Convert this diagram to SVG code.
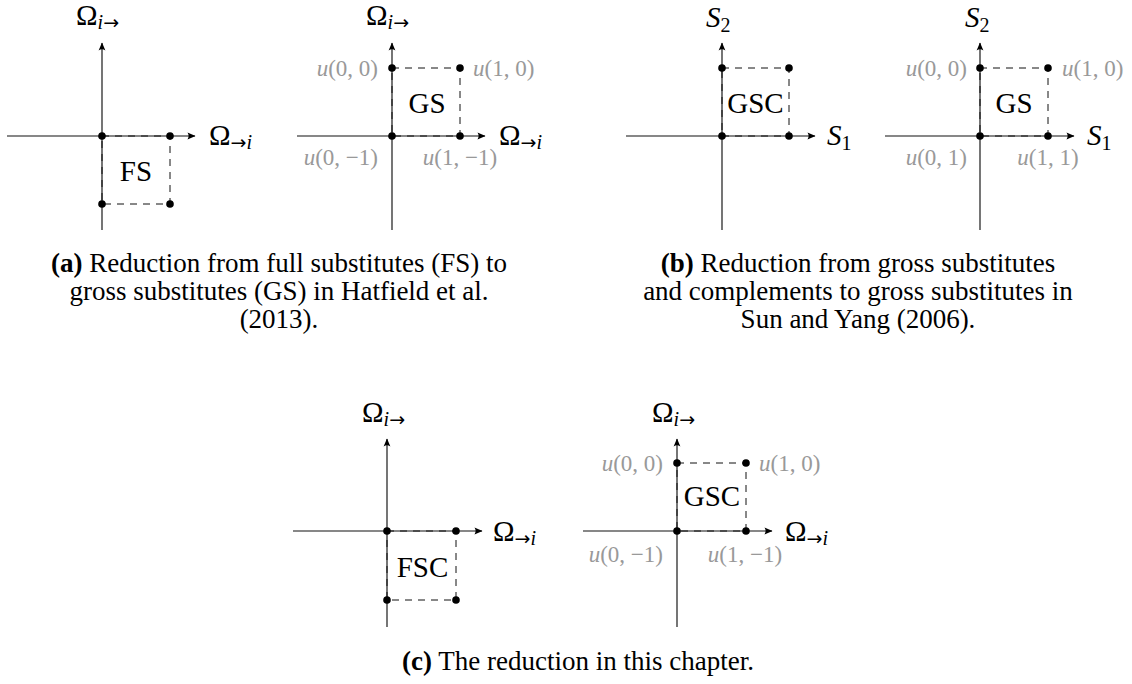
<svg xmlns="http://www.w3.org/2000/svg" width="1132" height="684" viewBox="0 0 1132 684">
<style>
  .axis{stroke:#111;stroke-width:1.15;fill:none}
  .dash{stroke:#111;stroke-width:1;fill:none;stroke-dasharray:7 6}
  .dot{fill:#000}
  text{font-family:"Liberation Serif","Times New Roman",serif;fill:#000}
  .big{font-size:29px}
  .sub{font-size:20px}
  .arr{font-family:"DejaVu Sans",sans-serif;font-size:19px}
  .it{font-style:italic}
  .u{font-size:23px;fill:#999}
  .cap{font-size:27px;text-anchor:middle}
  .mid{font-size:29px;text-anchor:middle}
  .b{font-weight:bold}
</style>
<defs>
  <marker id="ah" viewBox="-9 -5 10 10" refX="0" refY="0" markerWidth="10" markerHeight="10" markerUnits="userSpaceOnUse" orient="auto">
    <path d="M0.5,0 L-7.5,-3.4 Q-5.2,0 -7.5,3.4 Z" fill="#000"/>
  </marker>
</defs>

<!-- Panel 1 (a left) origin 102,136 -->
<g id="panel-a1">
  <g class="connectors">
    <line class="axis" x1="7" y1="136" x2="195" y2="136" marker-end="url(#ah)"/>
    <line class="axis" x1="102" y1="230" x2="102" y2="43" marker-end="url(#ah)"/>
    <path class="dash" d="M102,136 H170 V204 H102 Z"/>
  </g>
  <circle class="dot" cx="102" cy="136" r="3.8"/>
  <circle class="dot" cx="170" cy="136" r="3.8"/>
  <circle class="dot" cx="102" cy="204" r="3.8"/>
  <circle class="dot" cx="170" cy="204" r="3.8"/>
  <text class="big" x="76" y="25">Ω<tspan class="sub" dy="4"><tspan class="it">i</tspan><tspan class="arr">→</tspan></tspan></text>
  <text class="big" x="209" y="145">Ω<tspan class="sub" dy="4"><tspan class="arr">→</tspan><tspan class="it">i</tspan></tspan></text>
  <text class="mid" x="136" y="181">FS</text>
</g>

<!-- Panel 2 (a right) origin 392,136 -->
<g id="panel-a2">
  <g class="connectors">
    <line class="axis" x1="297" y1="136" x2="485" y2="136" marker-end="url(#ah)"/>
    <line class="axis" x1="392" y1="230" x2="392" y2="43" marker-end="url(#ah)"/>
    <path class="dash" d="M392,68 H460 V136 H392 Z"/>
  </g>
  <circle class="dot" cx="392" cy="136" r="3.8"/>
  <circle class="dot" cx="460" cy="136" r="3.8"/>
  <circle class="dot" cx="392" cy="68" r="3.8"/>
  <circle class="dot" cx="460" cy="68" r="3.8"/>
  <text class="big" x="366" y="25">Ω<tspan class="sub" dy="4"><tspan class="it">i</tspan><tspan class="arr">→</tspan></tspan></text>
  <text class="big" x="499" y="145">Ω<tspan class="sub" dy="4"><tspan class="arr">→</tspan><tspan class="it">i</tspan></tspan></text>
  <text class="mid" x="427" y="113">GS</text>
  <text class="u" x="378" y="76" text-anchor="end"><tspan class="it">u</tspan>(0, 0)</text>
  <text class="u" x="473" y="76"><tspan class="it">u</tspan>(1, 0)</text>
  <text class="u" x="378" y="165" text-anchor="end"><tspan class="it">u</tspan>(0, −1)</text>
  <text class="u" x="460" y="165" text-anchor="middle"><tspan class="it">u</tspan>(1, −1)</text>
</g>

<!-- Panel 3 (b left) origin 722,136 -->
<g id="panel-b1">
  <g class="connectors">
    <line class="axis" x1="626" y1="136" x2="815" y2="136" marker-end="url(#ah)"/>
    <line class="axis" x1="722" y1="230" x2="722" y2="43" marker-end="url(#ah)"/>
    <path class="dash" d="M722,68 H789 V136 H722 Z"/>
  </g>
  <circle class="dot" cx="722" cy="136" r="3.8"/>
  <circle class="dot" cx="789" cy="136" r="3.8"/>
  <circle class="dot" cx="722" cy="68" r="3.8"/>
  <circle class="dot" cx="789" cy="68" r="3.8"/>
  <text class="big" x="706" y="27"><tspan class="it">S</tspan><tspan class="sub" dy="5">2</tspan></text>
  <text class="big" x="827" y="145"><tspan class="it">S</tspan><tspan class="sub" dy="5">1</tspan></text>
  <text class="mid" x="755.5" y="113">GSC</text>
</g>

<!-- Panel 4 (b right) origin 980,136 -->
<g id="panel-b2">
  <g class="connectors">
    <line class="axis" x1="885" y1="136" x2="1074" y2="136" marker-end="url(#ah)"/>
    <line class="axis" x1="980" y1="230" x2="980" y2="43" marker-end="url(#ah)"/>
    <path class="dash" d="M980,68 H1048 V136 H980 Z"/>
  </g>
  <circle class="dot" cx="980" cy="136" r="3.8"/>
  <circle class="dot" cx="1048" cy="136" r="3.8"/>
  <circle class="dot" cx="980" cy="68" r="3.8"/>
  <circle class="dot" cx="1048" cy="68" r="3.8"/>
  <text class="big" x="965" y="27"><tspan class="it">S</tspan><tspan class="sub" dy="5">2</tspan></text>
  <text class="big" x="1087" y="145"><tspan class="it">S</tspan><tspan class="sub" dy="5">1</tspan></text>
  <text class="mid" x="1014" y="113">GS</text>
  <text class="u" x="967" y="76" text-anchor="end"><tspan class="it">u</tspan>(0, 0)</text>
  <text class="u" x="1062" y="76"><tspan class="it">u</tspan>(1, 0)</text>
  <text class="u" x="967" y="165" text-anchor="end"><tspan class="it">u</tspan>(0, 1)</text>
  <text class="u" x="1048" y="165" text-anchor="middle"><tspan class="it">u</tspan>(1, 1)</text>
</g>

<!-- Panel 5 (c left) origin 387,531 -->
<g id="panel-c1">
  <g class="connectors">
    <line class="axis" x1="293" y1="531" x2="482" y2="531" marker-end="url(#ah)"/>
    <line class="axis" x1="387" y1="627" x2="387" y2="439" marker-end="url(#ah)"/>
    <path class="dash" d="M387,531 H456 V600 H387 Z"/>
  </g>
  <circle class="dot" cx="387" cy="531" r="3.8"/>
  <circle class="dot" cx="456" cy="531" r="3.8"/>
  <circle class="dot" cx="387" cy="600" r="3.8"/>
  <circle class="dot" cx="456" cy="600" r="3.8"/>
  <text class="big" x="362" y="422">Ω<tspan class="sub" dy="4"><tspan class="it">i</tspan><tspan class="arr">→</tspan></tspan></text>
  <text class="big" x="493" y="541">Ω<tspan class="sub" dy="4"><tspan class="arr">→</tspan><tspan class="it">i</tspan></tspan></text>
  <text class="mid" x="422.5" y="577">FSC</text>
</g>

<!-- Panel 6 (c right) origin 677,531 -->
<g id="panel-c2">
  <g class="connectors">
    <line class="axis" x1="583" y1="531" x2="772" y2="531" marker-end="url(#ah)"/>
    <line class="axis" x1="677" y1="627" x2="677" y2="439" marker-end="url(#ah)"/>
    <path class="dash" d="M677,463 H746 V531 H677 Z"/>
  </g>
  <circle class="dot" cx="677" cy="531" r="3.8"/>
  <circle class="dot" cx="746" cy="531" r="3.8"/>
  <circle class="dot" cx="677" cy="463" r="3.8"/>
  <circle class="dot" cx="746" cy="463" r="3.8"/>
  <text class="big" x="652" y="422">Ω<tspan class="sub" dy="4"><tspan class="it">i</tspan><tspan class="arr">→</tspan></tspan></text>
  <text class="big" x="785" y="541">Ω<tspan class="sub" dy="4"><tspan class="arr">→</tspan><tspan class="it">i</tspan></tspan></text>
  <text class="mid" x="712" y="506">GSC</text>
  <text class="u" x="663" y="471" text-anchor="end"><tspan class="it">u</tspan>(0, 0)</text>
  <text class="u" x="759" y="471"><tspan class="it">u</tspan>(1, 0)</text>
  <text class="u" x="663" y="562" text-anchor="end"><tspan class="it">u</tspan>(0, −1)</text>
  <text class="u" x="745" y="562" text-anchor="middle"><tspan class="it">u</tspan>(1, −1)</text>
</g>

<!-- Captions -->
<g id="caption-a">
  <text class="cap" x="279" y="272"><tspan class="b">(a)</tspan> Reduction from full substitutes (FS) to</text>
  <text class="cap" x="279" y="300">gross substitutes (GS) in Hatfield et al.</text>
  <text class="cap" x="279" y="328">(2013).</text>
</g>
<g id="caption-b">
  <text class="cap" x="858" y="272"><tspan class="b">(b)</tspan> Reduction from gross substitutes</text>
  <text class="cap" x="858" y="300">and complements to gross substitutes in</text>
  <text class="cap" x="858" y="328">Sun and Yang (2006).</text>
</g>
<g id="caption-c">
  <text class="cap" x="578" y="670"><tspan class="b">(c)</tspan> The reduction in this chapter.</text>
</g>
</svg>
